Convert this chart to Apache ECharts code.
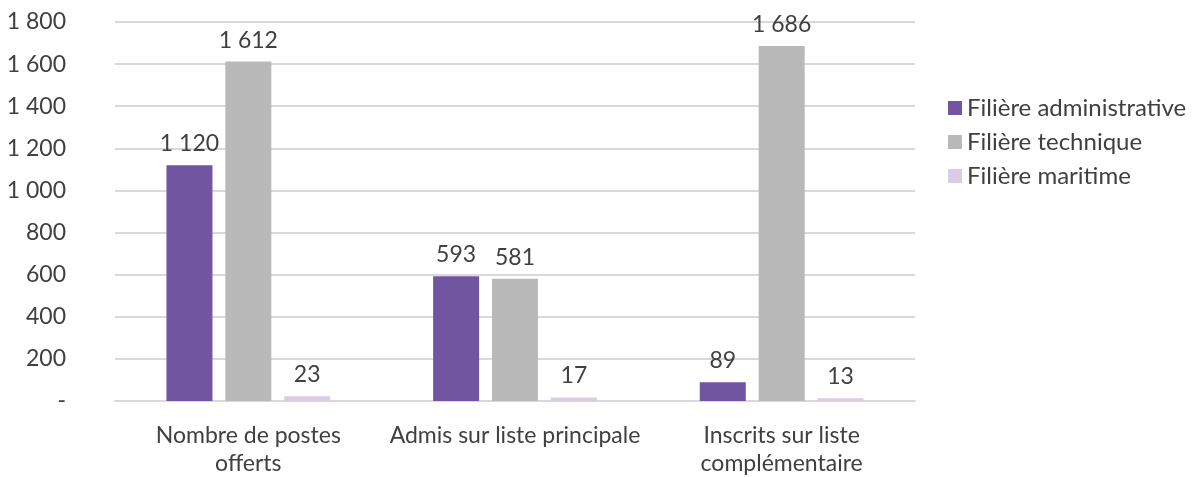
<!DOCTYPE html>
<html><head><meta charset="utf-8">
<script src="https://cdn.jsdelivr.net/npm/echarts@6/dist/echarts.min.js"></script>
<style>html,body{margin:0;padding:0;background:#fff}#c{width:1192px;height:477px}</style>
</head><body><div id="c"></div>
<script>
const categories = ['Nombre de postes\nofferts', 'Admis sur liste principale', 'Inscrits sur liste\ncomplémentaire'];
const seriesNames = ['Filière administrative', 'Filière technique', 'Filière maritime'];
const administrative = [1120, 593, 89];
const technique = [1612, 581, 1686];
const maritime = [23, 17, 13];
const yTicks = [0, 200, 400, 600, 800, 1000, 1200, 1400, 1600, 1800];

const colors = ['#7155A1', '#B8B9B8', '#DCCCE3'];
const font = 'Lato, "Open Sans", sans-serif';
function fmt(v){ if (v === 0) return '-'; return String(v).replace(/\B(?=(\d{3})+(?!\d))/g, ' '); }

const chart = echarts.init(document.getElementById('c'));
const data = [administrative, technique, maritime];
chart.setOption({
  animation: false,
  textStyle: {fontFamily: font},
  grid: {left: 115, right: 277, top: 22, bottom: 76, containLabel: false, outerBoundsMode: 'none'},
  legend: {
    orient: 'vertical', left: 943, top: 91, itemWidth: 14, itemHeight: 14, itemGap: 10,
    icon: 'rect',
    textStyle: {fontFamily: font, fontSize: 24, color: '#404040'},
    data: seriesNames
  },
  xAxis: {
    type: 'category', data: categories,
    axisLine: {lineStyle: {color: '#D9D9D9', width: 2}},
    axisTick: {show: false},
    axisLabel: {fontFamily: font, fontSize: 23, color: '#404040', margin: 21, lineHeight: 28, interval: 0}
  },
  yAxis: {
    type: 'value', min: yTicks[0], max: yTicks[yTicks.length-1], interval: 200,
    axisLine: {show: false}, axisTick: {show: false},
    splitLine: {lineStyle: {color: '#D9D9D9', width: 2}},
    axisLabel: {fontFamily: font, fontSize: 23, color: '#404040', margin: 49, formatter: fmt}
  },
  series: data.map((d, i) => ({
    name: seriesNames[i], type: 'bar', data: d, barWidth: 46, barGap: '28%',
    itemStyle: {color: colors[i]},
    label: {show: true, position: 'top', distance: 10, fontFamily: font, fontSize: 23, color: '#404040', formatter: p => fmt(p.value)}
  }))
});
</script></body></html>
